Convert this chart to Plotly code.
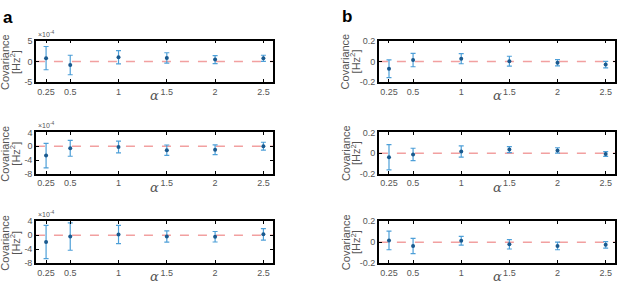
import plotly.graph_objects as go

alpha = [0.25, 0.5, 1, 1.5, 2, 2.5]
xtick_labels = ["0.25", "0.5", "1", "1.5", "2", "2.5"]

# Panel a (values in units of 1e-4 Hz^2)
a1_mean = [0.8, -0.85, 1.0, 0.85, 0.45, 0.75]
a1_err = [2.8, 2.35, 1.6, 1.25, 0.95, 0.75]
a2_mean = [-2.7, -0.6, -0.2, -1.15, -1.0, 0.0]
a2_err = [3.55, 2.3, 1.7, 1.5, 1.4, 1.15]
a3_mean = [-1.95, -0.4, 0.2, -0.37, -0.45, 0.25]
a3_err = [4.75, 3.9, 2.6, 1.6, 1.5, 1.65]

# Panel b (Hz^2)
b1_mean = [-0.07, 0.013, 0.027, 0.003, -0.012, -0.03]
b1_err = [0.085, 0.064, 0.049, 0.047, 0.03, 0.031]
b2_mean = [-0.04, -0.013, 0.016, 0.034, 0.026, -0.008]
b2_err = [0.122, 0.06, 0.055, 0.028, 0.026, 0.023]
b3_mean = [0.017, -0.036, 0.014, -0.02, -0.036, -0.025]
b3_err = [0.089, 0.072, 0.042, 0.045, 0.036, 0.031]

a_y1_ticks = [-5, 0, 5]
a_y23_ticks = [-8, -4, 0, 4]
b_ticks = [-0.2, 0, 0.2]
b_tick_labels = ["-0.2", "0", "0.2"]

W, H = 617, 287
ERR_COLOR = "#4d9fd8"
PT_COLOR = "#1a5a8f"
LINE_RED = "#f2a0a0"
GREY = "#555555"
FONT = "Liberation Sans"

xdom = {"a": [36 / W, 273.5 / W], "b": [379.5 / W, 616.3 / W]}
rows_px = [(37, 80), (132, 175), (224, 267.5)]
ydoms = [[1 - b / H, 1 - t / H] for t, b in rows_px]
title_x = {"a": (5.5, 15.5), "b": (346.5, 356.5)}

panels = [
    ("a", 0, a1_mean, a1_err, [-5, 5], a_y1_ticks, [str(v) for v in a_y1_ticks]),
    ("a", 1, a2_mean, a2_err, [-8, 4], a_y23_ticks, [str(v) for v in a_y23_ticks]),
    ("a", 2, a3_mean, a3_err, [-8, 4], a_y23_ticks, [str(v) for v in a_y23_ticks]),
    ("b", 0, b1_mean, b1_err, [-0.2, 0.2], b_ticks, b_tick_labels),
    ("b", 1, b2_mean, b2_err, [-0.2, 0.2], b_ticks, b_tick_labels),
    ("b", 2, b3_mean, b3_err, [-0.2, 0.2], b_ticks, b_tick_labels),
]

fig = go.Figure()
layout = {}
shapes = []
annotations = []

for i, (col, row, mean, err, yr, yt, ytl) in enumerate(panels, start=1):
    xa = "x" if i == 1 else f"x{i}"
    ya = "y" if i == 1 else f"y{i}"
    xkey = "xaxis" if i == 1 else f"xaxis{i}"
    ykey = "yaxis" if i == 1 else f"yaxis{i}"
    fig.add_trace(go.Scatter(
        x=alpha, y=mean, mode="markers", xaxis=xa, yaxis=ya,
        marker=dict(size=4, color=PT_COLOR),
        error_y=dict(type="data", array=err, visible=True,
                     color=ERR_COLOR, thickness=1.2, width=2.5),
        showlegend=False, cliponaxis=True,
    ))
    axis_common = dict(showline=True, linecolor="black", linewidth=1.5,
                       mirror="ticks", ticks="inside", ticklen=3,
                       tickcolor="black", tickwidth=1, showgrid=False,
                       zeroline=False,
                       tickfont=dict(family=FONT, size=9, color=GREY))
    layout[xkey] = dict(domain=xdom[col], anchor=ya, range=[0.145, 2.6],
                        tickvals=alpha, ticktext=xtick_labels, **axis_common)
    layout[ykey] = dict(domain=ydoms[row], anchor=xa, range=yr,
                        tickvals=yt, ticktext=ytl, **axis_common)
    shapes.append(dict(type="line", xref=f"{xa} domain", yref=ya,
                       x0=0, x1=1, y0=0, y1=0,
                       line=dict(color=LINE_RED, width=1.5, dash="dash"),
                       layer="below"))
    top_px, bot_px = rows_px[row]
    mid_y = 1 - (top_px + bot_px) / 2 / H
    xd = xdom[col]
    # y-axis title (two rotated lines)
    for txt, tx in zip(["Covariance", "[Hz<sup>2</sup>]"], title_x[col]):
        annotations.append(dict(text=txt, xref="paper", yref="paper",
                                x=tx / W, y=mid_y, xanchor="center", yanchor="middle",
                                textangle=-90, showarrow=False,
                                font=dict(family=FONT, size=11, color=GREY)))
    # x-axis title
    annotations.append(dict(text="<i>α</i>", xref="paper", yref="paper",
                            x=(xd[0] + xd[1]) / 2, y=1 - (bot_px + 14) / H,
                            xanchor="center", yanchor="middle", showarrow=False,
                            font=dict(family="DejaVu Serif", size=13, color=GREY)))
    if col == "a":
        annotations.append(dict(text="×10<sup>-4</sup>", xref="paper", yref="paper",
                                x=xd[0], y=1 - (top_px - 1) / H,
                                xanchor="left", yanchor="bottom", showarrow=False,
                                font=dict(family=FONT, size=7, color=GREY)))

annotations.append(dict(text="<b>a</b>", xref="paper", yref="paper", x=1 / W, y=1 - 1 / H,
                        xanchor="left", yanchor="top", showarrow=False,
                        font=dict(family=FONT, size=17, color="black")))
annotations.append(dict(text="<b>b</b>", xref="paper", yref="paper", x=341 / W, y=1 - 0 / H,
                        xanchor="left", yanchor="top", showarrow=False,
                        font=dict(family=FONT, size=17, color="black")))

fig.update_layout(width=W, height=H, margin=dict(l=0, r=0, t=0, b=0),
                  paper_bgcolor="white", plot_bgcolor="white",
                  shapes=shapes, annotations=annotations, **layout)

fig.write_html("out.html", config={"displayModeBar": False},
               post_script="document.body.style.margin='0';document.body.style.overflow='hidden';")
